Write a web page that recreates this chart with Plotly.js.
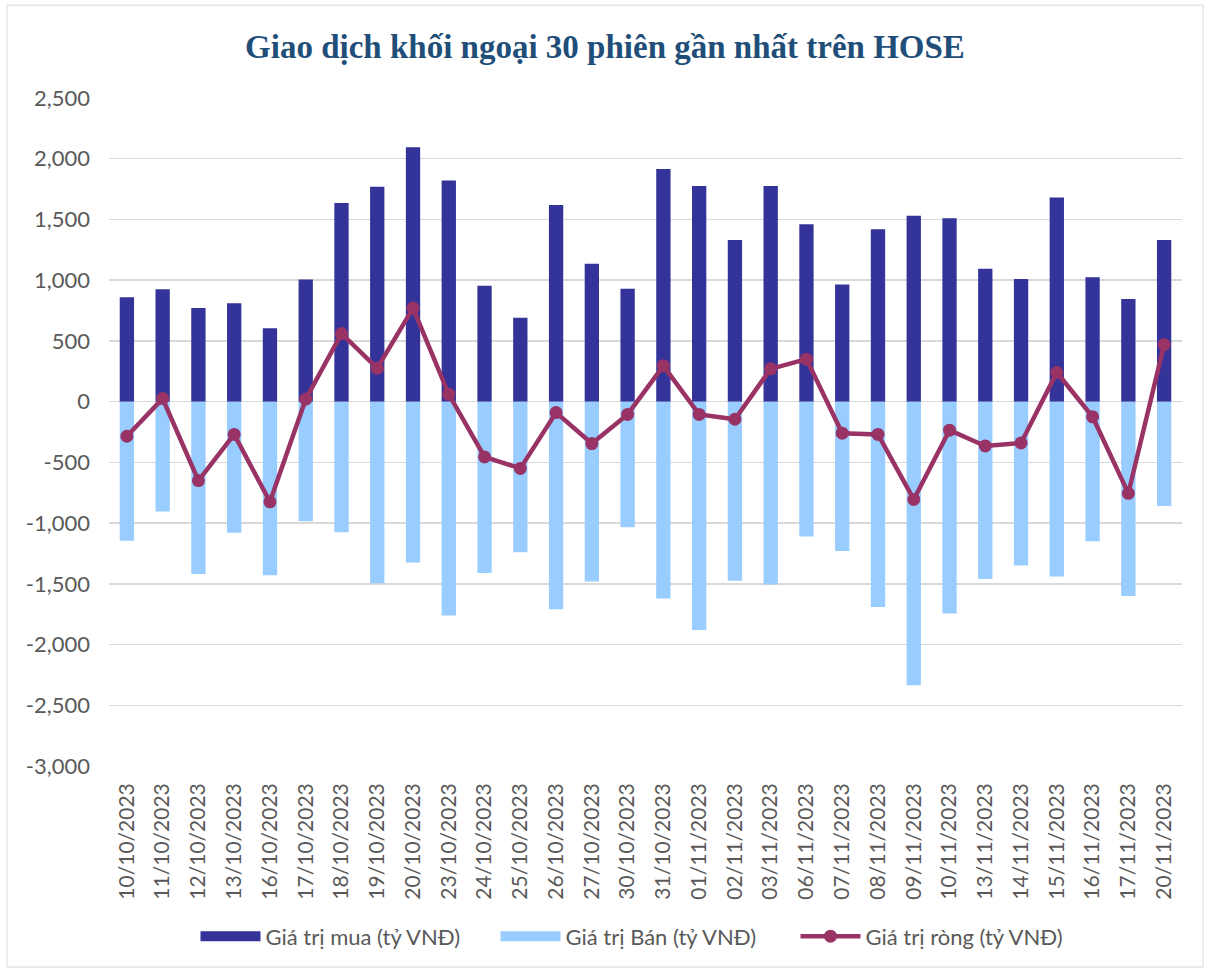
<!DOCTYPE html>
<html><head><meta charset="utf-8">
<script src="https://cdn.plot.ly/plotly-3.0.1.min.js"></script>
<style>body{margin:0;background:#fff}#chart{width:1210px;height:972px}</style>
</head><body><div id="chart"></div>
<script>
const dates = ["10/10/2023","11/10/2023","12/10/2023","13/10/2023","16/10/2023","17/10/2023","18/10/2023","19/10/2023","20/10/2023","23/10/2023","24/10/2023","25/10/2023","26/10/2023","27/10/2023","30/10/2023","31/10/2023","01/11/2023","02/11/2023","03/11/2023","06/11/2023","07/11/2023","08/11/2023","09/11/2023","10/11/2023","13/11/2023","14/11/2023","15/11/2023","16/11/2023","17/11/2023","20/11/2023"];
const buyValues = [860,925,770,810,605,1005,1635,1770,2095,1820,955,690,1620,1135,930,1915,1775,1330,1775,1460,965,1420,1530,1510,1095,1010,1680,1025,845,1330];
const sellValues = [-1145,-905,-1420,-1080,-1430,-985,-1075,-1495,-1325,-1760,-1410,-1240,-1710,-1480,-1035,-1620,-1880,-1475,-1505,-1110,-1230,-1690,-2335,-1745,-1460,-1350,-1440,-1150,-1600,-860];
const netValues = [-285,25,-650,-270,-825,20,560,275,770,60,-455,-550,-90,-345,-105,295,-105,-145,270,350,-260,-270,-805,-235,-365,-340,240,-125,-755,470];
const yTickVals = [-3000,-2500,-2000,-1500,-1000,-500,0,500,1000,1500,2000,2500];
const yTickText = ["-3,000","-2,500","-2,000","-1,500","-1,000","-500","0","500","1,000","1,500","2,000","2,500"];
const seriesNames = ["Giá trị mua (tỷ VNĐ)", "Giá trị Bán (tỷ VNĐ)", "Giá trị ròng (tỷ VNĐ)"];

const textFont = {family:"Lato, 'Open Sans', sans-serif", size:22, color:"#595959"};
const tickFont = {family:"Lato, 'Open Sans', sans-serif", size:21, color:"#595959"};
const traces = [
  {type:"bar", name:seriesNames[0], x:dates, y:buyValues, marker:{color:"#333399"}, showlegend:false},
  {type:"bar", name:seriesNames[1], x:dates, y:sellValues, marker:{color:"#99CCFF"}, showlegend:false},
  {type:"scatter", mode:"lines+markers", name:seriesNames[2], x:dates, y:netValues,
   line:{color:"#993366", width:4.5}, marker:{color:"#993366", size:13}, showlegend:false},
  // legend keys (no data drawn)
  {type:"scatter", mode:"lines", name:seriesNames[0], x:[null], y:[null], line:{color:"#333399", width:14}, hoverinfo:"skip"},
  {type:"scatter", mode:"lines", name:seriesNames[1], x:[null], y:[null], line:{color:"#99CCFF", width:14}, hoverinfo:"skip"},
  {type:"scatter", mode:"lines+markers", name:seriesNames[2], x:[null], y:[null],
   line:{color:"#993366", width:4.5}, marker:{color:"#993366", size:13}, hoverinfo:"skip"}
];
const layout = {
  width:1210, height:972,
  margin:{l:109, r:28, t:98, b:206},
  paper_bgcolor:"#fff", plot_bgcolor:"#fff",
  barmode:"relative", bargap:0.6,
  title:{text:"<b>Giao dịch khối ngoại 30 phiên gần nhất trên HOSE</b>", x:0.5, xanchor:"center", y:0.952, yanchor:"middle",
    font:{family:"'Liberation Serif', 'DejaVu Serif', serif", size:33, color:"#1F4E79"}},
  xaxis:{type:"category", range:[-0.5, 29.5], tickangle:-90, tickfont:tickFont, showgrid:false, zeroline:false,
    showline:false, ticks:"", ticklabelstandoff:12, automargin:false},
  yaxis:{range:[-3000,2500], tickvals:yTickVals, ticktext:yTickText, tickfont:textFont,
    gridcolor:"#D9D9D9", gridwidth:1.5, zeroline:true, zerolinecolor:"#D9D9D9", zerolinewidth:1.5,
    showline:false, ticks:"", ticklabelstandoff:18, automargin:false},
  legend:{orientation:"h", x:0.5, xanchor:"center", y:-0.255, yanchor:"middle", font:textFont, traceorder:"normal",
    itemwidth:60, entrywidth:225},
  shapes:[{type:"rect", xref:"paper", yref:"paper", x0:-0.0951, x1:1.0196, y0:-0.301, y1:1.139,
    line:{color:"#D9D9D9", width:1}, fillcolor:"rgba(0,0,0,0)", layer:"below"}],
  showlegend:true
};
Plotly.newPlot("chart", traces, layout, {displayModeBar:false, staticPlot:true});
</script></body></html>
